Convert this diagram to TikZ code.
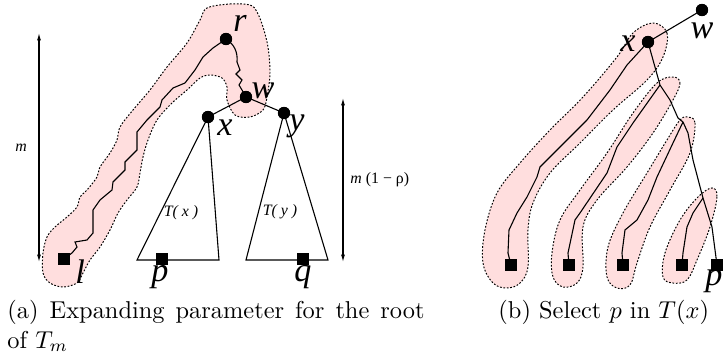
\documentclass[tikz,border=0pt]{standalone}
\usepackage{fontspec}
\newfontfamily\tms{Liberation Serif}
\usetikzlibrary{arrows.meta}
\definecolor{pinkfill}{RGB}{255,222,222}
\begin{document}
\begin{tikzpicture}[x=0.41pt,y=-0.41pt,
  dot/.style={circle,fill=black,inner sep=0,minimum size=5pt},
  leaf/.style={rectangle,fill=black,inner sep=0,minimum size=4.9pt},
  lab/.style={font=\tms\fontsize{14}{16}\selectfont\itshape,inner sep=0},
  small/.style={font=\tms\fontsize{6.5}{8}\selectfont,inner sep=0},
  region/.style={fill=pinkfill,draw=black,dash pattern=on 0.7pt off 0.7pt,line width=0.4pt},
  edge/.style={line width=0.45pt},
  dim/.style={line width=0.45pt,{Latex[length=3pt,width=1.6pt]}-{Latex[length=3pt,width=1.6pt]}}]
\useasboundingbox (0,0) rectangle (723,359);

% ---------- panel (a) ----------
\draw[region] plot[smooth cycle,tension=0.55] coordinates {
 (207,8) (230,4) (250,5) (257,12) (263,27) (268,47) (270,73) (267,97) (263,110)
 (250,117) (235,115) (227,100) (227,87) (222,78) (210,75) (200,78) (187,90)
 (172,103) (157,120) (148,140) (143,157) (140,173) (137,187) (127,200) (118,213)
 (110,230) (100,247) (90,260) (83,273) (77,283) (63,287) (50,283) (43,273)
 (43,253) (47,237) (55,227) (67,217) (77,207) (80,197) (87,190) (97,177)
 (100,167) (110,153) (117,140) (120,127) (133,110) (150,90) (167,67) (187,43) (200,20)};

\node[dot] (r) at (226,39) {};
\node[dot] (w) at (246,97) {};
\node[dot] (x) at (208,117) {};
\node[dot] (y) at (284,113) {};
\node[leaf] (l) at (64,259) {};
\node[leaf] (p) at (162,259) {};
\node[leaf] (q) at (303,259) {};

\coordinate (xbl) at (137,260);
\coordinate (xbr) at (219,260);
\coordinate (ybl) at (246,260);
\coordinate (ybr) at (328,260);

\draw[edge] (r.center) -- (213,48) -- (203,57) -- (195,70) -- (185,83) -- (173,88)
 -- (162,100) -- (160,107) -- (147,120) -- (137,132) -- (137,150) -- (125,162)
 -- (125,170) -- (113,182) -- (112,190) -- (100,200) -- (93,210) -- (93,233)
 -- (87,240) -- (75,242) -- (77,247) -- (72,253) -- (l.center);
\draw[edge] (r.center) .. controls (234,44) and (238,52) .. (237,62) -- (240,70) -- (236,74)
 -- (242,80) -- (239,85) -- (242,90) -- (w.center);
\draw[edge] (w.center) -- (x.center);
\draw[edge] (w.center) -- (y.center);
\draw[edge] (x.center) -- (xbl) -- (xbr) -- cycle;
\draw[edge] (y.center) -- (ybl) -- (ybr) -- cycle;
\node[dot] at (r) {};
\node[dot] at (w) {};
\node[dot] at (x) {};
\node[dot] at (y) {};
\node[leaf] at (p) {};
\node[leaf] at (q) {};
\node[leaf] at (l) {};

\node[lab] (rl) at (240,23) {r};
\node[lab] (wl) at (263,91) {w};
\node[lab] (xl) at (225,128) {x};
\node[lab] (yl) at (297,126) {y};
\node[lab] (ll) at (80,272) {l};
\node[lab] (pl) at (160,277) {p};
\node[lab] (ql) at (303,277) {q};

\node[small] (tx) at (181,213) {\itshape T( x )};
\node[small] (ty) at (280,212) {\itshape T( y )};

\coordinate (mt) at (39,33);
\coordinate (mb) at (39,262);
\draw[dim] (mt) -- (mb);
\node[small] (ml) at (21,148) {\itshape m};
\coordinate (nt) at (343,98);
\coordinate (nb) at (343,262);
\draw[dim] (nt) -- (nb);
\node[small,anchor=west] (nl) at (350,180) {{\itshape m} (1 − ρ)};

% ---------- panel (b) ----------
\draw[region] plot[smooth cycle,tension=0.6] coordinates {
 (653,23) (667,33) (663,57) (647,80) (613,110) (580,143) (550,173) (533,203)
 (528,230) (528,267) (520,283) (507,288) (493,283) (483,263) (485,230) (497,193)
 (520,163) (550,130) (583,97) (617,57) (633,33)};
\draw[region] plot[smooth cycle,tension=0.6] coordinates {
 (673,77) (680,83) (673,100) (653,133) (627,167) (597,200) (583,227) (583,267)
 (577,283) (563,287) (553,277) (552,253) (560,220) (580,190) (607,153) (633,113) (657,83)};
\draw[region] plot[smooth cycle,tension=0.6] coordinates {
 (688,117) (695,123) (690,153) (670,190) (650,227) (637,263) (630,285) (617,288)
 (607,277) (608,247) (623,213) (647,173) (667,140) (680,120)};
\draw[region] plot[smooth cycle,tension=0.6] coordinates {
 (712,188) (717,197) (710,227) (697,260) (687,280) (673,283) (663,277) (665,253)
 (680,220) (698,197)};

\node[dot] (bw) at (702,10) {};
\node[dot] (bx) at (648,42) {};
\node[leaf] (b1) at (511,265) {};
\node[leaf] (b2) at (569,265) {};
\node[leaf] (b3) at (623,265) {};
\node[leaf] (b4) at (682,265) {};
\node[leaf] (bp) at (717,265) {};
\coordinate (s1) at (660,85);
\coordinate (s2) at (683,122);
\coordinate (s3) at (703,198);

\draw[edge] (bw.center) -- (bx.center);
\draw[edge] (bx.center) -- (627,65) -- (610,90) -- (587,120) -- (557,150) -- (540,167)
 -- (537,177) -- (527,197) -- (517,213) -- (509,230) -- (508,253) -- (b1.center);
\draw[edge] (bx.center) -- (s1) -- (670,100) -- (678,118) -- (s2) -- (688,133)
 -- (693,160) -- (s3) -- (712,227) -- (bp.center);
\draw[edge] (s1) -- (633,123) -- (617,147) -- (607,173) -- (580,213) -- (575,220)
 -- (568,253) -- (b2.center);
\draw[edge] (s2) -- (673,143) -- (657,177) -- (648,200) -- (637,220) -- (625,230)
 -- (622,253) -- (b3.center);
\draw[edge] (s3) -- (693,213) -- (687,227) -- (683,253) -- (b4.center);
\node[dot] at (bw) {};
\node[dot] at (bx) {};
\foreach \n in {b1,b2,b3,b4,bp} \node[leaf] at (\n) {};

\node[lab] (bwl) at (702,31) {w};
\node[lab] (bxl) at (628,44) {x};
\node[lab] (bpl) at (714,281) {p};

% ---------- captions ----------
\node[anchor=base west,inner sep=0] (capa) at (7,319)
  {\parbox[t]{171pt}{(a) Expanding parameter for the root of $T_m$}};
\node[anchor=base west,inner sep=0] (capb) at (498,319) {(b) Select $p$ in $T(x)$};
\end{tikzpicture}
\end{document}
